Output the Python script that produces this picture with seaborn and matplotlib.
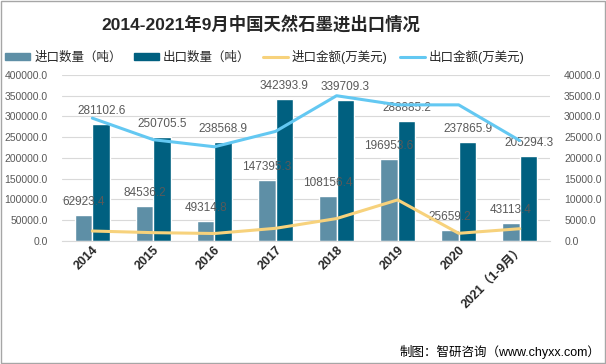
import matplotlib
matplotlib.use('Agg')
from matplotlib import pyplot as plt
from matplotlib.patches import Rectangle
import seaborn as sns
import pandas as pd
import numpy as np

# data
years = ["2014", "2015", "2016", "2017", "2018", "2019", "2020", "2021（1-9月）"]
import_qty = [62923.4, 84536.2, 49314.8, 147395.3, 108156.4, 196953.6, 25659.2, 43113.4]
export_qty = [281102.6, 250705.5, 238568.9, 342393.9, 339709.3, 288885.2, 237865.9, 205294.3]
import_amt = [2400, 2000, 1800, 3050, 5400, 9900, 1850, 2950]
export_amt = [29600, 24400, 22700, 26400, 35000, 32800, 32800, 24200]

sns.set_style("white")
plt.rcParams['font.family'] = ['Liberation Sans', 'Noto Sans CJK SC', 'DejaVu Sans']

c_imp = "#5e8fa6"
c_exp = "#006080"
c_imp_amt = "#f7d27c"
c_exp_amt = "#63c8f2"
grey = "#595959"

bars = pd.DataFrame({
    "year": years * 2,
    "value": import_qty + export_qty,
    "series": ["进口数量（吨）"] * len(years) + ["出口数量（吨）"] * len(years),
})

fig = plt.figure(figsize=(6.06, 3.64), dpi=100)
ax = fig.add_axes([0.102, 0.338, 0.806, 0.456])

sns.barplot(data=bars, x="year", y="value", hue="series",
            palette=[c_imp, c_exp], width=0.58, saturation=1,
            ax=ax, legend=False)

ax.set_ylim(0, 400000)
ax.set_yticks(np.arange(0, 400001, 50000))
ax.yaxis.set_major_formatter(matplotlib.ticker.FormatStrFormatter("%.1f"))
ax.grid(axis="y", color="#d9d9d9", linewidth=0.8)
ax.set_axisbelow(True)
ax.set_xlabel("")
ax.set_ylabel("")
for s in ["top", "left", "right"]:
    ax.spines[s].set_visible(False)
ax.spines["bottom"].set_color("#d9d9d9")
ax.tick_params(axis="y", length=0, labelsize=7.5, labelcolor=grey, pad=10)
ax.tick_params(axis="x", length=0, pad=2)
ax.set_xticks(range(len(years)))
ax.set_xticklabels(years, rotation=45, ha="right", rotation_mode="anchor",
                   fontsize=9, fontweight="bold", color="#262626")

# value labels above bars
for cont in ax.containers:
    ax.bar_label(cont, fmt="%.1f", padding=5, fontsize=8.5, color=grey)

ax2 = ax.twinx()
x = np.arange(len(years))
sns.lineplot(x=x, y=import_amt, ax=ax2, color=c_imp_amt, linewidth=2.2)
sns.lineplot(x=x, y=export_amt, ax=ax2, color=c_exp_amt, linewidth=2.2)
ax2.set_ylim(0, 40000)
ax2.set_yticks(np.arange(0, 40001, 5000))
ax2.yaxis.set_major_formatter(matplotlib.ticker.FormatStrFormatter("%.1f"))
ax2.tick_params(axis="y", length=0, labelsize=7.5, labelcolor=grey, pad=10)
for s in ["top", "left", "right", "bottom"]:
    ax2.spines[s].set_visible(False)
ax2.set_xlim(-0.5, len(years) - 0.5)
ax.set_xlim(-0.5, len(years) - 0.5)

# legend
handles = [
    Rectangle((0, 0), 1, 1, color=c_imp),
    Rectangle((0, 0), 1, 1, color=c_exp),
    plt.Line2D([], [], color=c_imp_amt, linewidth=2.2),
    plt.Line2D([], [], color=c_exp_amt, linewidth=2.2),
]
labels = ["进口数量（吨）", "出口数量（吨）", "进口金额(万美元)", "出口金额(万美元)"]
fig.legend(handles, labels, loc="center", bbox_to_anchor=(0.437, 0.843), ncol=4,
           frameon=False, fontsize=9, handlelength=2.0, handleheight=0.55,
           handletextpad=0.3, columnspacing=1.0, labelcolor="#262626")

fig.text(0.43, 0.934, "2014-2021年9月中国天然石墨进出口情况", ha="center", va="center",
         fontsize=12.5, fontweight="bold", color="#262626")
fig.text(0.99, 0.033, "制图：智研咨询（www.chyxx.com）", ha="right", va="center",
         fontsize=9, color="black")

fig.patches.append(Rectangle((0.001, 0.002), 0.997, 0.995, transform=fig.transFigure,
                             fill=False, edgecolor="#a6a6a6", linewidth=1))

fig.savefig("out.png", dpi=100)
